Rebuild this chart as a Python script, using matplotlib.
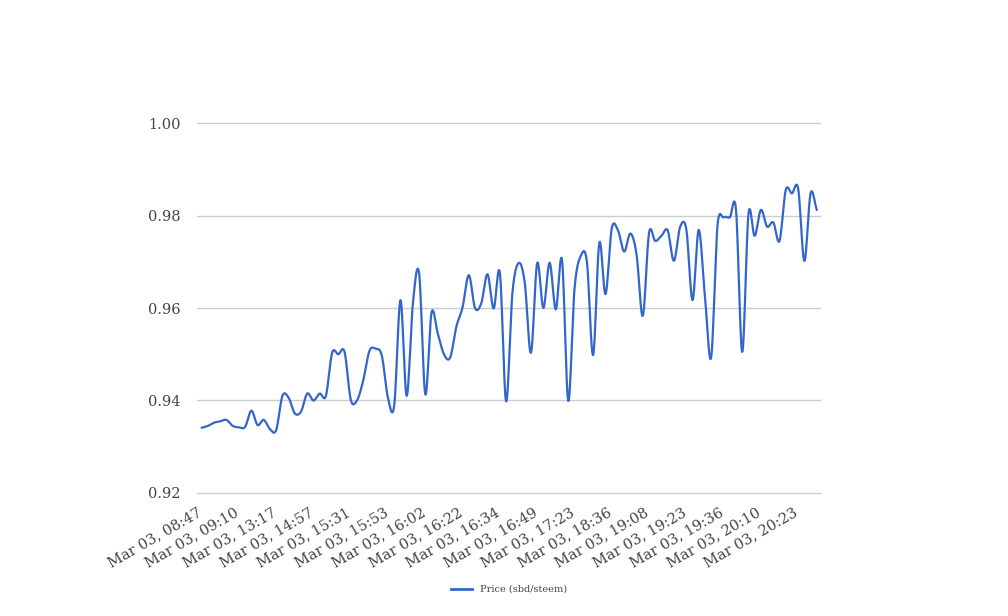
import matplotlib
matplotlib.use("Agg")
import matplotlib.pyplot as plt
import numpy as np
from matplotlib.lines import Line2D

# Tick labels shown on the category axis (one every 6 points)
tick_labels = [
    "Mar 03, 08:47", "Mar 03, 09:10", "Mar 03, 13:17", "Mar 03, 14:57",
    "Mar 03, 15:31", "Mar 03, 15:53", "Mar 03, 16:02", "Mar 03, 16:22",
    "Mar 03, 16:34", "Mar 03, 16:49", "Mar 03, 17:23", "Mar 03, 18:36",
    "Mar 03, 19:08", "Mar 03, 19:23", "Mar 03, 19:36", "Mar 03, 20:10",
    "Mar 03, 20:23",
]
LABEL_EVERY = 6

# Price (sbd/steem)
price = [
    0.9341, 0.9345, 0.9352, 0.9355, 0.9358, 0.9345, 0.9342, 0.9343, 0.9378, 0.9347,
    0.9358, 0.9338, 0.9336, 0.9410, 0.9406, 0.9372, 0.9376, 0.9415, 0.9400, 0.9415,
    0.9410, 0.9503, 0.9500, 0.9505, 0.9402, 0.9400, 0.9443, 0.9507, 0.9512, 0.9497,
    0.9405, 0.9390, 0.9617, 0.9410, 0.9610, 0.9675, 0.9413, 0.9590, 0.9545, 0.9500,
    0.9493, 0.9560, 0.9602, 0.9671, 0.9600, 0.9610, 0.9673, 0.9599, 0.9676, 0.9398,
    0.9630, 0.9697, 0.9655, 0.9503, 0.9697, 0.9600, 0.9698, 0.9597, 0.9704, 0.9399,
    0.9640, 0.9712, 0.9700, 0.9498, 0.9741, 0.9630, 0.9772, 0.9768, 0.9722, 0.9761,
    0.9715, 0.9583, 0.9762, 0.9745, 0.9756, 0.9768, 0.9702, 0.9775, 0.9770, 0.9617,
    0.9769, 0.9625, 0.9493, 0.9775, 0.9796, 0.9796, 0.9812, 0.9505, 0.9803, 0.9756,
    0.9812, 0.9776, 0.9785, 0.9745, 0.9855, 0.9848, 0.9858, 0.9702, 0.9848, 0.9812,
]

y_ticks = [0.92, 0.94, 0.96, 0.98, 1.00]


def smooth(xs, ys, steps=12):
    # cubic Hermite with Catmull-Rom tangents, like a "function" curve
    xs = np.asarray(xs, float)
    ys = np.asarray(ys, float)
    m = np.gradient(ys, xs)
    out_x, out_y = [], []
    for i in range(len(xs) - 1):
        h = xs[i + 1] - xs[i]
        t = np.linspace(0, 1, steps, endpoint=False)
        h00 = 2 * t**3 - 3 * t**2 + 1
        h10 = t**3 - 2 * t**2 + t
        h01 = -2 * t**3 + 3 * t**2
        h11 = t**3 - t**2
        out_x.append(xs[i] + t * h)
        out_y.append(h00 * ys[i] + h10 * h * m[i] + h01 * ys[i + 1] + h11 * h * m[i + 1])
    out_x.append([xs[-1]])
    out_y.append([ys[-1]])
    return np.concatenate(out_x), np.concatenate(out_y)


plt.rcParams["font.family"] = ["DejaVu Serif"]

fig = plt.figure(figsize=(10.08, 6.16), dpi=100)
ax = fig.add_axes([0.1954, 0.1997, 0.618, 0.6006])

x = np.arange(len(price))
sx, sy = smooth(x, price)
ax.plot(sx, sy, color="#3366cc", lw=1.6, solid_capstyle="round", zorder=3)

ax.set_xlim(-0.5, len(price) - 0.5)
ax.set_ylim(0.92, 1.00)
ax.set_yticks(y_ticks)
ax.set_yticklabels([f"{v:.2f}" for v in y_ticks])
for v in y_ticks:
    ax.axhline(v, color="#cccccc", lw=1, clip_on=False, zorder=1)

# labels sit a little left of their category, as in the original
ax.set_xticks(np.arange(0, len(tick_labels) * LABEL_EVERY, LABEL_EVERY) - 0.75)
ax.set_xticklabels(tick_labels, rotation=30, ha="right", rotation_mode="anchor")

for s in ax.spines.values():
    s.set_visible(False)
ax.tick_params(axis="both", length=0, colors="#444444", labelsize=10.5)
ax.tick_params(axis="y", pad=12)
ax.tick_params(axis="x", pad=9)

handle = Line2D([], [], color="#3366cc", lw=2)
fig.legend([handle], ["Price (sbd/steem)"], loc="center", bbox_to_anchor=(0.505, 0.043),
           frameon=False, fontsize=7, handlelength=2.2, labelcolor="#444444")

fig.savefig("out.png", dpi=100)
